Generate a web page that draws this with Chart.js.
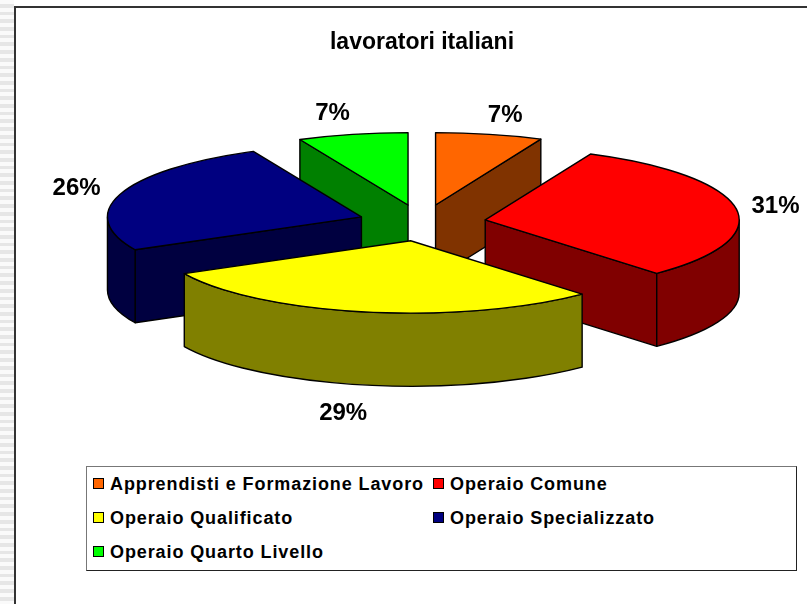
<!DOCTYPE html>
<html lang="it">
<head>
<meta charset="utf-8">
<style>
html,body{margin:0;padding:0;background:#fff;width:807px;height:604px;overflow:hidden}
#stripes{position:absolute;left:0;top:0;width:14px;height:604px;
 background:repeating-linear-gradient(to bottom,#fafafa 0,#fafafa 4px,#e6e6e6 4px,#e6e6e6 7.7px)}
#frame{position:absolute;left:14px;top:6px;width:793px;height:598px;background:#fff;border-left:2px solid #333;border-top:2px solid #333;box-sizing:border-box}
canvas{position:absolute;left:0;top:0}
#legend{position:absolute;left:86px;top:466px;width:711px;height:105px;box-sizing:border-box;background:#fff;
 border:1px solid #222;border-top-color:#777;border-left-color:#777;
 font:bold 18px "Liberation Sans",Arial,sans-serif;color:#000;letter-spacing:.9px}
#legend div{position:absolute;white-space:nowrap;line-height:20px}
#legend i{position:absolute;width:9px;height:9px;border:1px solid #000;display:block}
</style>
</head>
<body>
<div id="stripes"></div>
<div id="frame"></div>
<canvas id="c" width="807" height="604"></canvas>
<div id="legend"></div>
<script src="https://cdn.jsdelivr.net/npm/chart.js@4"></script>
<script>
const chartTitle = "lavoratori italiani";
const categories = ["Apprendisti e Formazione Lavoro","Operaio Comune","Operaio Qualificato","Operaio Specializzato","Operaio Quarto Livello"];
const values = [6.8,31.4,29.3,25.5,7.0];
const topColors = ["#FF6600","#FF0000","#FFFF00","#000080","#00FF00"];
const wallColors = ["#803300","#800000","#808000","#000040","#008000"];
const labelNudge = [[6,4],[-6,1],[-14,5],[-1,3],[-10,2]];
const drawOrder = [0,4,3,1,2];

const RATIO = 0.285, DEPTH = 73, EXPLODE = 64, LABEL_RX = 300, LABEL_RY = 96;

function sliceGeom(arc){
  const mid = (arc.startAngle + arc.endAngle)/2;
  return {mid, cx: arc.x + Math.cos(mid)*EXPLODE, cy: arc.y + Math.sin(mid)*EXPLODE*RATIO,
          rx: arc.outerRadius, ry: arc.outerRadius*RATIO};
}
function pt(g,a){ return [g.cx + Math.cos(a)*g.rx, g.cy + Math.sin(a)*g.ry]; }
function paint(ctx,fill){ ctx.fillStyle = fill; ctx.fill(); ctx.stroke(); }

function drawSlice(ctx,arc,i){
  const g = sliceGeom(arc), s = arc.startAngle, e = arc.endAngle;
  ctx.save();
  ctx.strokeStyle = "#000"; ctx.lineWidth = 1.4; ctx.lineJoin = "round";
  // radial walls facing the viewer
  [[s,Math.cos(s) < -1e-6],[e,Math.cos(e) > 1e-6]].forEach(([a,vis])=>{
    if(!vis) return;
    const p = pt(g,a);
    ctx.beginPath();
    ctx.moveTo(g.cx,g.cy); ctx.lineTo(p[0],p[1]); ctx.lineTo(p[0],p[1]+DEPTH); ctx.lineTo(g.cx,g.cy+DEPTH); ctx.closePath();
    paint(ctx,wallColors[i]);
  });
  // outer curved wall, front half only
  const a0 = Math.max(s,0), a1 = Math.min(e,Math.PI);
  if(a1 > a0){
    ctx.beginPath();
    ctx.ellipse(g.cx,g.cy,g.rx,g.ry,0,a0,a1);
    ctx.ellipse(g.cx,g.cy+DEPTH,g.rx,g.ry,0,a1,a0,true);
    ctx.closePath();
    paint(ctx,wallColors[i]);
  }
  // top face, drawn by the library's arc element under a squash transform
  ctx.save();
  ctx.translate(g.cx,g.cy); ctx.scale(1,RATIO); ctx.translate(-arc.x,-arc.y);
  arc.draw(ctx);
  ctx.restore();
  ctx.beginPath();
  ctx.moveTo(g.cx,g.cy);
  ctx.ellipse(g.cx,g.cy,g.rx,g.ry,0,s,e);
  ctx.closePath();
  ctx.stroke();
  ctx.restore();
}

const pie3d = {
  id:"pie3d",
  beforeDatasetDraw(chart){
    const arcs = chart.getDatasetMeta(0).data, ctx = chart.ctx;
    drawOrder.forEach(i => drawSlice(ctx,arcs[i],i));
    return false;
  },
  afterDatasetsDraw(chart){
    const arcs = chart.getDatasetMeta(0).data, ctx = chart.ctx;
    const total = values.reduce((a,b)=>a+b,0);
    ctx.save();
    ctx.font = 'bold 24px "Liberation Sans",Arial,sans-serif';
    ctx.fillStyle = "#000"; ctx.textAlign = "center"; ctx.textBaseline = "middle";
    arcs.forEach((arc,i)=>{
      const g = sliceGeom(arc);
      const x = g.cx + Math.cos(g.mid)*LABEL_RX + labelNudge[i][0];
      const y = g.cy + Math.sin(g.mid)*LABEL_RY + (Math.sin(g.mid) > 0.5 ? DEPTH : 0) + labelNudge[i][1];
      ctx.fillText(Math.round(values[i]/total*100)+"%",x,y);
    });
    ctx.restore();
  }
};

new Chart(document.getElementById("c"),{
  type:"pie",
  data:{labels:categories,datasets:[{data:values,backgroundColor:topColors,borderWidth:0,radius:254}]},
  options:{
    responsive:false,animation:false,
    layout:{padding:{left:37,right:0,top:0,bottom:222}},
    plugins:{
      legend:{display:false},tooltip:{enabled:false},
      title:{display:true,text:chartTitle,color:"#000",
        font:{family:'"Liberation Sans",Arial,sans-serif',size:23,weight:"bold"},
        padding:{top:29,bottom:7}}
    }
  },
  plugins:[pie3d]
});

const legend = document.getElementById("legend");
const legendCols = [7,347], legendRows = [7,41,75];
categories.forEach((name,i)=>{
  const c = i%2, r = Math.floor(i/2);
  const item = document.createElement("div");
  item.style.left = legendCols[c]+"px"; item.style.top = legendRows[r]+"px";
  item.style.paddingLeft = "16px";
  const sw = document.createElement("i");
  sw.style.left = "-1px"; sw.style.top = "4px"; sw.style.background = topColors[i];
  item.appendChild(sw);
  item.appendChild(document.createTextNode(name));
  legend.appendChild(item);
});
</script>
</body>
</html>
